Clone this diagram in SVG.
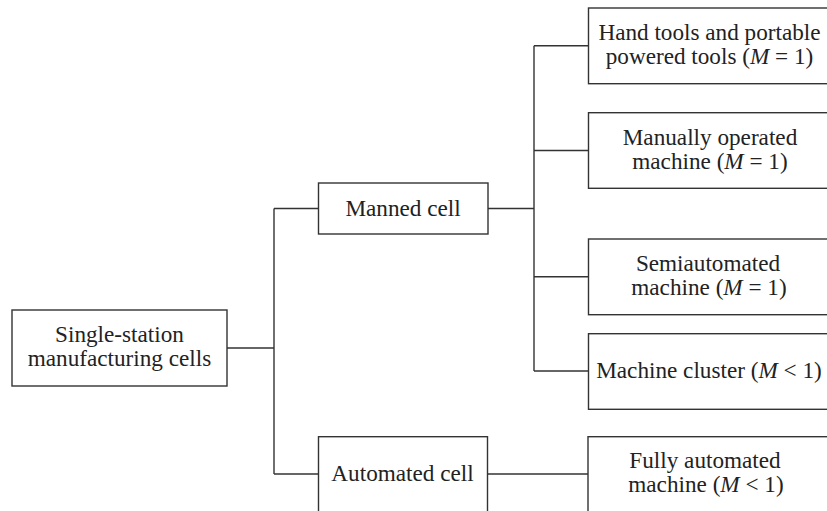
<svg xmlns="http://www.w3.org/2000/svg" width="827" height="511" viewBox="0 0 827 511">
<style>
  rect { fill: #ffffff; stroke: #333333; stroke-width: 1.4; }
  .c line { stroke: #333333; stroke-width: 1.4; }
  text { font-family: "Liberation Serif", "Times New Roman", serif; font-size: 23.2px; fill: #222222; text-anchor: middle; }
  .i { font-style: italic; }
</style>
<rect x="0" y="0" width="827" height="511" style="fill:#ffffff;stroke:none"/>
<g class="c" id="connectors">
  <line x1="227" y1="348" x2="274" y2="348"/>
  <line x1="274" y1="208.5" x2="274" y2="474"/>
  <line x1="274" y1="208.5" x2="318.5" y2="208.5"/>
  <line x1="274" y1="474" x2="318.5" y2="474"/>
  <line x1="488" y1="208.5" x2="534" y2="208.5"/>
  <line x1="534" y1="45.8" x2="534" y2="371"/>
  <line x1="534" y1="45.8" x2="588.5" y2="45.8"/>
  <line x1="534" y1="150.5" x2="588.5" y2="150.5"/>
  <line x1="534" y1="276.8" x2="588.5" y2="276.8"/>
  <line x1="534" y1="371" x2="588.5" y2="371"/>
  <line x1="487.5" y1="474" x2="588" y2="474"/>
</g>
<g id="single-station">
  <rect x="12" y="310" width="215" height="76"/>
  <text x="119.5" y="341.5">Single-station</text>
  <text x="119.5" y="365.5">manufacturing cells</text>
</g>
<g id="manned-cell">
  <rect x="318.5" y="183" width="169.5" height="51"/>
  <text x="403" y="215.5">Manned cell</text>
</g>
<g id="automated-cell">
  <rect x="318.5" y="436.7" width="169" height="90"/>
  <text x="402.5" y="481">Automated cell</text>
</g>
<g id="hand-tools">
  <rect x="588.5" y="8" width="260" height="75.7"/>
  <text x="709.5" y="39.5">Hand tools and portable</text>
  <text x="709.5" y="63.5">powered tools (<tspan class="i">M</tspan> = 1)</text>
</g>
<g id="manual-machine">
  <rect x="588.5" y="112.7" width="260" height="75.6"/>
  <text x="710" y="144.5">Manually operated</text>
  <text x="710" y="168.5">machine (<tspan class="i">M</tspan> = 1)</text>
</g>
<g id="semiautomated">
  <rect x="588.5" y="239" width="260" height="75.7"/>
  <text x="708" y="270.5">Semiautomated</text>
  <text x="709" y="294.5">machine (<tspan class="i">M</tspan> = 1)</text>
</g>
<g id="machine-cluster">
  <rect x="588.5" y="333.7" width="260" height="75.6"/>
  <text x="709" y="377.5">Machine cluster (<tspan class="i">M</tspan> &lt; 1)</text>
</g>
<g id="fully-automated">
  <rect x="588" y="436.7" width="260" height="90"/>
  <text x="705" y="467.5">Fully automated</text>
  <text x="706" y="491.5">machine (<tspan class="i">M</tspan> &lt; 1)</text>
</g>
</svg>
